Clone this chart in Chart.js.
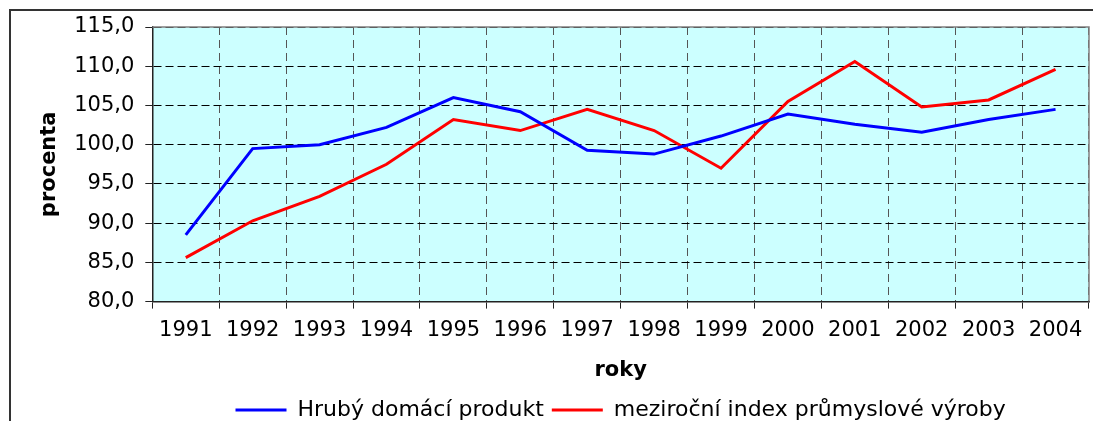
<!DOCTYPE html>
<html>
<head>
<meta charset="utf-8">
<script src="https://cdn.jsdelivr.net/npm/chart.js@4.4.1/dist/chart.umd.min.js"></script>
<style>
  html, body { margin: 0; padding: 0; background: #fff; }
  #wrap { width: 1093px; height: 421px; }
</style>
</head>
<body>
<div id="wrap"><canvas id="graf"></canvas></div>
<script>
const roky = ['1991', '1992', '1993', '1994', '1995', '1996', '1997', '1998', '1999', '2000', '2001', '2002', '2003', '2004'];
const hdp = [88.5, 99.5, 100.0, 102.2, 106.0, 104.2, 99.3, 98.8, 101.1, 103.9, 102.6, 101.6, 103.2, 104.5];
const prumysl = [85.6, 90.3, 93.4, 97.5, 103.2, 101.8, 104.5, 101.8, 97.0, 105.5, 110.6, 104.8, 105.7, 109.6];

const pismo = "'DejaVu Sans', Verdana, sans-serif";

// pozadí, rámeček grafu a oblasti grafu
const ramecek = {
  id: 'ramecek',
  beforeDraw(chart) {
    const { ctx, chartArea: a } = chart;
    ctx.save();
    ctx.fillStyle = '#fff';
    ctx.fillRect(0, 0, chart.width, chart.height);
    ctx.strokeStyle = '#333';
    ctx.lineWidth = 2;
    ctx.strokeRect(10, 10, chart.width + 20, chart.height + 20);
    ctx.fillStyle = '#ccffff';
    ctx.fillRect(a.left, a.top, a.right - a.left, a.bottom - a.top);
    ctx.restore();
  },
  afterDatasetsDraw(chart) {
    const { ctx, chartArea: a } = chart;
    ctx.save();
    ctx.strokeStyle = '#808080';
    ctx.lineWidth = 1.5;
    ctx.beginPath();
    ctx.moveTo(a.left, a.top);
    ctx.lineTo(a.right, a.top);
    ctx.lineTo(a.right, a.bottom);
    ctx.stroke();
    ctx.restore();
  }
};

new Chart(document.getElementById('graf'), {
  type: 'line',
  data: {
    labels: roky,
    datasets: [
      { label: 'Hrubý domácí produkt', data: hdp, borderColor: '#0000ff', backgroundColor: '#0000ff', borderWidth: 3, pointRadius: 0, tension: 0 },
      { label: 'meziroční index průmyslové výroby', data: prumysl, borderColor: '#ff0000', backgroundColor: '#ff0000', borderWidth: 3, pointRadius: 0, tension: 0 }
    ]
  },
  options: {
    responsive: true,
    maintainAspectRatio: false,
    animation: false,
    layout: { padding: { left: 29, top: 27, right: 4, bottom: -10 } },
    scales: {
      x: {
        offset: true,
        grid: { offset: true, color: '#555', lineWidth: 1, tickColor: '#222', tickLength: 7 },
        border: { color: '#222', width: 1.5, dash: [8, 5] },
        ticks: { color: '#000', font: { family: pismo, size: 21 }, padding: 9, maxRotation: 0, autoSkip: false },
        title: { display: true, text: 'roky', color: '#000', font: { family: pismo, size: 21, weight: 'bold' }, padding: { top: 6, bottom: 8 } }
      },
      y: {
        min: 80,
        max: 115,
        grid: { color: '#000', lineWidth: 1, tickColor: '#222', tickLength: 7 },
        border: { color: '#222', width: 1.5, dash: [8, 4] },
        ticks: {
          stepSize: 5,
          color: '#000',
          padding: 11,
          font: { family: pismo, size: 21 },
          callback: v => v.toFixed(1).replace('.', ',')
        },
        title: { display: true, text: 'procenta', color: '#000', font: { family: pismo, size: 21, weight: 'bold' }, padding: { top: 8, bottom: 1 } }
      }
    },
    plugins: {
      legend: {
        position: 'bottom',
        fullSize: false,
        labels: {
          usePointStyle: true,
          pointStyle: 'line',
          pointStyleWidth: 51,
          padding: 8,
          color: '#000',
          font: { family: pismo, size: 22 }
        }
      },
      tooltip: { enabled: false }
    }
  },
  plugins: [ramecek]
});
</script>
</body>
</html>
